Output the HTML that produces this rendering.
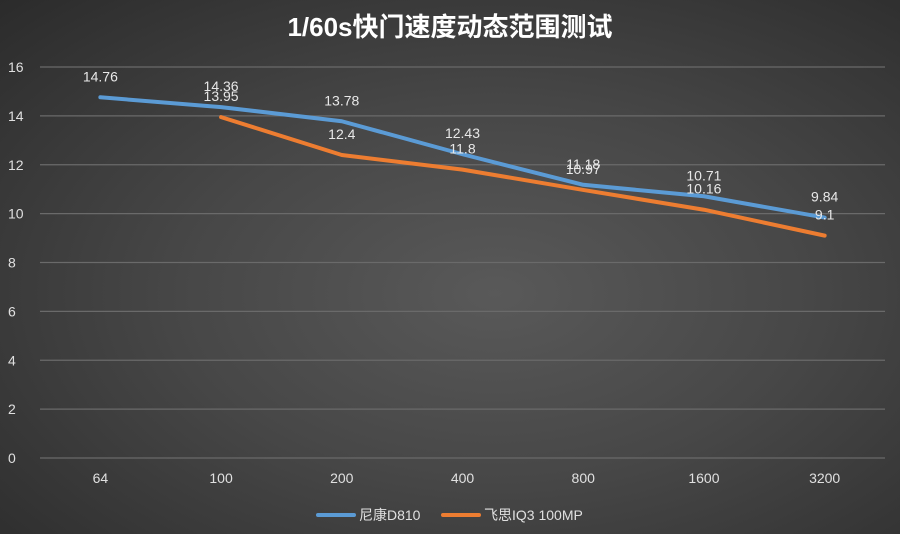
<!DOCTYPE html>
<html><head><meta charset="utf-8"><style>
body{margin:0;width:900px;height:534px;overflow:hidden;background:radial-gradient(ellipse at 55% 55%,#595959 0%,#474747 45%,#2b2b2b 100%);font-family:"Liberation Sans","Noto Sans CJK SC",sans-serif;}
svg{position:absolute;left:0;top:0}
</style></head><body>
<svg id="c" width="900" height="534"></svg>
<script>
const categories=["64","100","200","400","800","1600","3200"];
const nikon=[14.76,14.36,13.78,12.43,11.18,10.71,9.84];
const phase=[null,13.95,12.4,11.8,10.97,10.16,9.1];
const yTicks=[0,2,4,6,8,10,12,14,16];
const seriesNames=["尼康D810","飞思IQ3 100MP"];
const NS="http://www.w3.org/2000/svg";
const svg=document.getElementById('c');
const x0=40,x1=885,y0=458,yTop=67,yMax=16;
const band=(x1-x0)/categories.length;
const xs=i=>x0+band*(i+0.5);
const ys=v=>y0-(v/yMax)*(y0-yTop);
function el(t,a,txt){const e=document.createElementNS(NS,t);for(const k in a)e.setAttribute(k,a[k]);if(txt!=null)e.textContent=txt;svg.appendChild(e);return e;}
let t=el('text',{x:450,y:36,'text-anchor':'middle','font-size':26,'font-weight':'bold',fill:'#fff'},'1/60s快门速度动态范围测试');


yTicks.forEach(v=>{
 const g=el('line',{x1:x0,x2:x1,y1:ys(v),y2:ys(v),stroke:'#6a6a6a','stroke-width':1.2});
 
 
 const l=el('text',{x:8,y:ys(v)+5,'font-size':14,fill:'#e0e0e0'},v);
 
 
});
categories.forEach((c,i)=>{
 const l=el('text',{x:xs(i),y:483,'text-anchor':'middle','font-size':14,fill:'#e0e0e0'},c);
 
 
});
function series(data,color,name,dy){
 let d='';data.forEach((v,i)=>{if(v==null)return;d+=(d?'L':'M')+xs(i)+','+ys(v);});
 const p=el('path',{d:d,fill:'none',stroke:color,'stroke-width':4,'stroke-linejoin':'round','stroke-linecap':'round'});
 
 
 data.forEach((v,i)=>{if(v==null)return;
  const l=el('text',{x:xs(i),y:ys(v)+dy,'text-anchor':'middle','font-size':14,fill:'#e8e8e8'},v);
  
  });
}
series(nikon,'#5b9bd5','nikon-d810',-16);
series(phase,'#ed7d31','phase-one-iq3',-16);
const lg=[[318,'#5b9bd5',seriesNames[0],359],[443,'#ed7d31',seriesNames[1],484]];
lg.forEach((L,i)=>{
 const s=el('line',{x1:L[0],x2:L[0]+36,y1:515,y2:515,stroke:L[1],'stroke-width':4,'stroke-linecap':'round'});
 
 
 const tx=el('text',{x:L[3],y:520,'font-size':14,fill:'#e0e0e0'},L[2]);
 
 
});
</script>
</body></html>
